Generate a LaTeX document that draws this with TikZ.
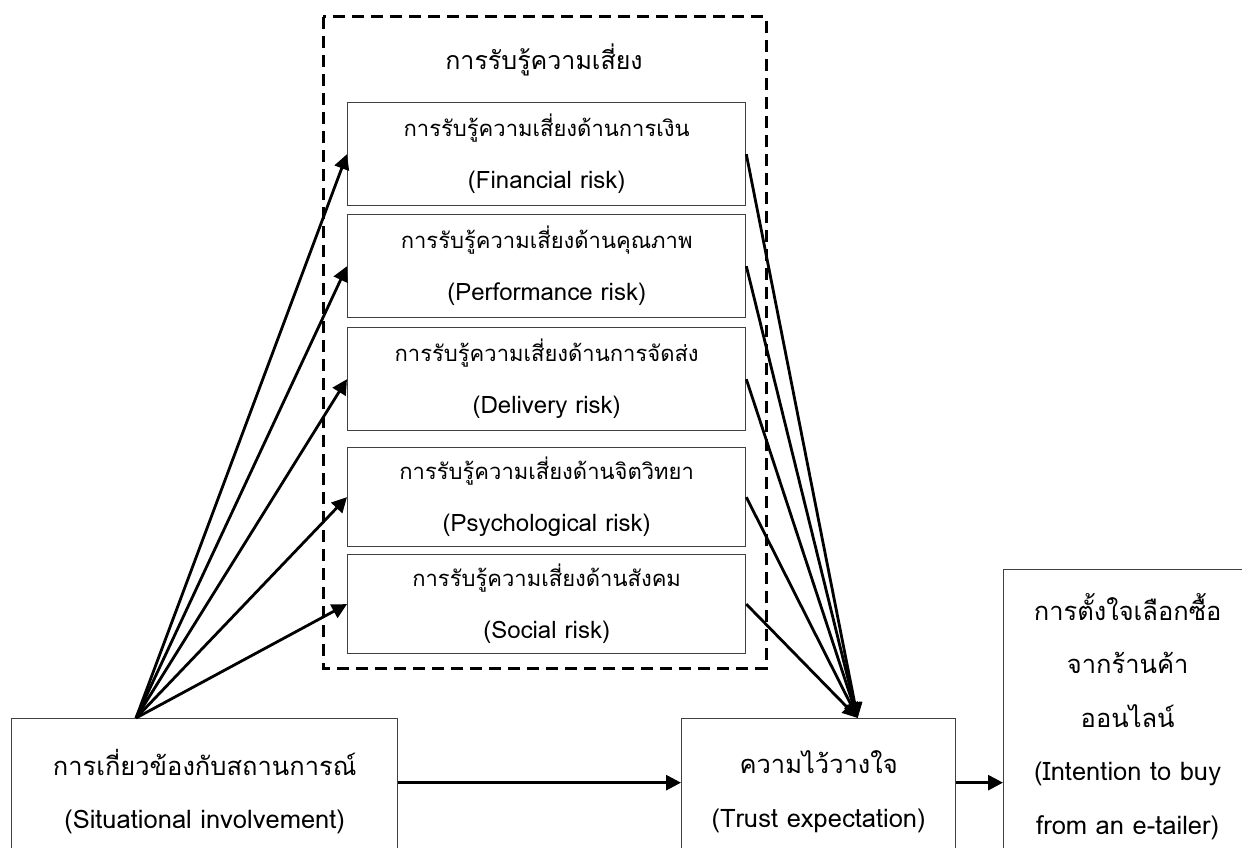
\documentclass[tikz,border=0pt]{standalone}
\usepackage{fontspec}
\setmainfont[Script=Thai]{Loma}
\usetikzlibrary{arrows.meta}
\newcommand\smallen[1]{{\fontsize{24}{52}\selectfont #1}}
\begin{document}
\begin{tikzpicture}[x=1pt,y=-1pt,
  riskbox/.style={draw=black!75, line width=1.3pt, minimum width=398pt, minimum height=103pt, anchor=north west, align=center, inner sep=0pt, font=\fontsize{22}{52}\selectfont},
  bigbox/.style={draw=black!75, line width=1.3pt, anchor=north west, align=center, inner sep=0pt, font=\fontsize{25.5}{53.5}\selectfont},
  titletext/.style={font=\fontsize{25}{30}\selectfont, inner sep=0pt},
  dashbox/.style={draw=black, line width=3pt, dash pattern=on 12pt off 7pt},
  conn/.style={line width=2.8pt, -{Triangle[length=15pt,width=15pt]}}]
\useasboundingbox (0,0) rectangle (1242,848);
\draw[dashbox] (323,17) rectangle (766,668);
\node[titletext] (title) at (544,60) {การรับรู้ความเสี่ยง};
\node[riskbox] (r1) at (347,102) {การรับรู้ความเสี่ยงด้านการเงิน\\\smallen{(Financial risk)}};
\node[riskbox] (r2) at (347,214) {การรับรู้ความเสี่ยงด้านคุณภาพ\\\smallen{(Performance risk)}};
\node[riskbox] (r3) at (347,327) {การรับรู้ความเสี่ยงด้านการจัดส่ง\\\smallen{(Delivery risk)}};
\node[riskbox, minimum height=99pt] (r4) at (347,447) {การรับรู้ความเสี่ยงด้านจิตวิทยา\\\smallen{(Psychological risk)}};
\node[riskbox, minimum height=99pt] (r5) at (347,554) {การรับรู้ความเสี่ยงด้านสังคม\\\smallen{(Social risk)}};
\node[bigbox, minimum width=386pt, minimum height=146pt] (sit) at (11,718) {การเกี่ยวข้องกับสถานการณ์\\(Situational involvement)};
\node[bigbox, minimum width=274pt, minimum height=146pt] (trust) at (681,718) {ความไว้วางใจ\\(Trust expectation)};
\node[bigbox, minimum width=248pt, minimum height=294pt] (buy) at (1003,569) {การตั้งใจเลือกซื้อ\\จากร้านค้า\\ออนไลน์\\(Intention to buy\\from an e-tailer)};
\coordinate (fan) at ([xshift=125pt]sit.north west);
\coordinate (conv) at ([xshift=39pt]trust.north);
\foreach \r in {r1,r2,r3,r4,r5} {
  \draw[conn] (fan) -- (\r.west);
  \draw[conn] (\r.east) -- (conv);
}
\draw[conn] ([yshift=9pt]sit.east) -- ([yshift=9pt]trust.west);
\draw[conn] ([yshift=9pt]trust.east) -- ([yshift=9pt]trust.east -| buy.west);
\end{tikzpicture}
\end{document}
